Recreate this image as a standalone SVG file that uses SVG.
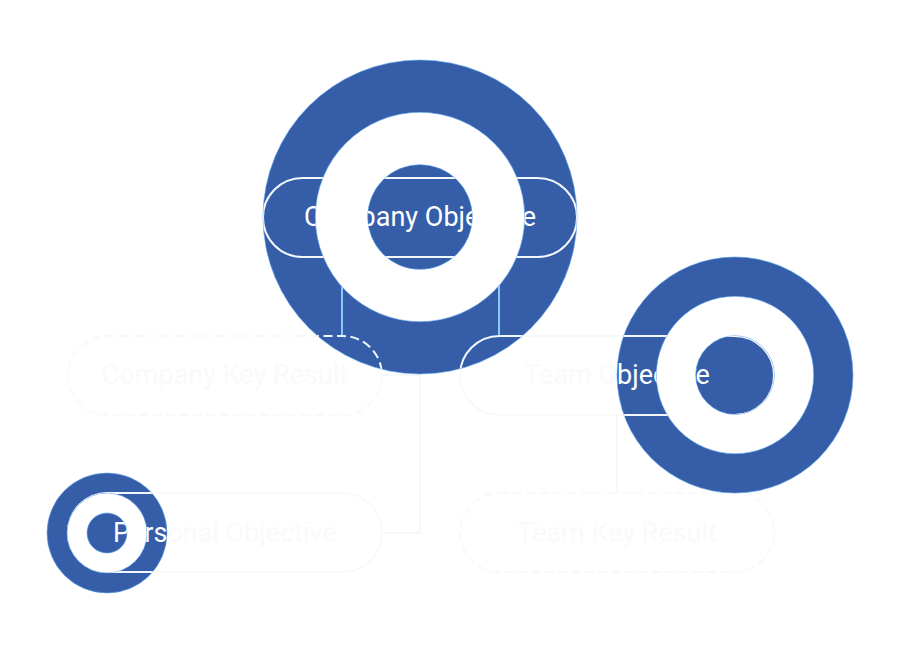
<svg xmlns="http://www.w3.org/2000/svg" width="900" height="654" viewBox="0 0 900 654">
<style>
.donut{fill:#355DA8;fill-rule:evenodd;stroke:#5FA8EE;stroke-width:0.6}
.ring{fill:#FFFFFF}
.pill{fill:none;stroke:#F8F9FA;stroke-width:2}
.dash{stroke-dasharray:9 4.5}
.lbl{font-family:Roboto,"Liberation Sans",sans-serif;font-size:27px;fill:#F9FAFB;text-anchor:middle}
.conn{fill:none;stroke:#F6F7F8;stroke-width:2}
.hi .pill{stroke:#F2F7FD}
.hi .lbl{fill:#FFFFFF}
.hi .conn{stroke:#8CC8FA}
</style>
<defs>
<clipPath id="blue">
<path clip-rule="evenodd" d="M263,217a157,157 0 1,0 314,0a157,157 0 1,0 -314,0Z M315.33,217a104.67,104.67 0 1,0 209.34,0a104.67,104.67 0 1,0 -209.34,0Z M367.67,217a52.33,52.33 0 1,0 104.66,0a52.33,52.33 0 1,0 -104.66,0Z"/>
<path clip-rule="evenodd" d="M617,375a118,118 0 1,0 236,0a118,118 0 1,0 -236,0Z M656.33,375a78.67,78.67 0 1,0 157.34,0a78.67,78.67 0 1,0 -157.34,0Z M695.67,375a39.33,39.33 0 1,0 78.66,0a39.33,39.33 0 1,0 -78.66,0Z"/>
<path clip-rule="evenodd" d="M47,533a60,60 0 1,0 120,0a60,60 0 1,0 -120,0Z M67,533a40,40 0 1,0 80,0a40,40 0 1,0 -80,0Z M87,533a20,20 0 1,0 40,0a20,20 0 1,0 -40,0Z"/>
</clipPath>
</defs>
<rect width="900" height="654" fill="#FFFFFF"/>
<g id="connectors">
<path class="conn" d="M342,257V336"/>
<path class="conn" d="M499,257V336"/>
<path class="conn" d="M617,415V493"/>
<path class="conn" d="M382,375H420V533H382"/>
</g>
<g id="company-objective">
<rect class="pill" x="263" y="178" width="314" height="79" rx="39.5"/>
<text class="lbl" x="420" y="226">Company Objective</text>
</g>
<g id="company-key-result">
<rect class="pill dash" x="68" y="336" width="314" height="79" rx="39.5"/>
<text class="lbl" x="225" y="384">Company Key Result</text>
</g>
<g id="team-objective">
<rect class="pill" x="460" y="336" width="314" height="79" rx="39.5"/>
<text class="lbl" x="617" y="384">Team Objective</text>
</g>
<g id="team-key-result">
<rect class="pill dash" x="460" y="493" width="314" height="79" rx="39.5"/>
<text class="lbl" x="617" y="542">Team Key Result</text>
</g>
<g id="personal-objective">
<rect class="pill" x="68" y="493" width="314" height="79" rx="39.5"/>
<text class="lbl" x="225" y="542">Personal Objective</text>
</g>
<g id="donuts">
<circle class="ring" cx="420" cy="217" r="157"/>
<circle class="ring" cx="735" cy="375" r="118"/>
<circle class="ring" cx="107" cy="533" r="60"/>
<path class="donut" d="M263,217a157,157 0 1,0 314,0a157,157 0 1,0 -314,0Z M315.33,217a104.67,104.67 0 1,0 209.34,0a104.67,104.67 0 1,0 -209.34,0Z M367.67,217a52.33,52.33 0 1,0 104.66,0a52.33,52.33 0 1,0 -104.66,0Z"/>
<path class="donut" d="M617,375a118,118 0 1,0 236,0a118,118 0 1,0 -236,0Z M656.33,375a78.67,78.67 0 1,0 157.34,0a78.67,78.67 0 1,0 -157.34,0Z M695.67,375a39.33,39.33 0 1,0 78.66,0a39.33,39.33 0 1,0 -78.66,0Z"/>
<path class="donut" d="M47,533a60,60 0 1,0 120,0a60,60 0 1,0 -120,0Z M67,533a40,40 0 1,0 80,0a40,40 0 1,0 -80,0Z M87,533a20,20 0 1,0 40,0a20,20 0 1,0 -40,0Z"/>
</g>
<g id="highlight" class="hi" clip-path="url(#blue)">
<g id="connectors-hi">
<path class="conn" d="M342,257V336"/>
<path class="conn" d="M499,257V336"/>
<path class="conn" d="M617,415V493"/>
<path class="conn" d="M382,375H420V533H382"/>
</g>
<rect class="pill" x="263" y="178" width="314" height="79" rx="39.5"/>
<text class="lbl" x="420" y="226">Company Objective</text>
<rect class="pill dash" x="68" y="336" width="314" height="79" rx="39.5"/>
<rect class="pill" x="460" y="336" width="314" height="79" rx="39.5"/>
<text class="lbl" x="617" y="384">Team Objective</text>
<rect class="pill" x="68" y="493" width="314" height="79" rx="39.5"/>
<text class="lbl" x="225" y="542">Personal Objective</text>
</g>
</svg>
